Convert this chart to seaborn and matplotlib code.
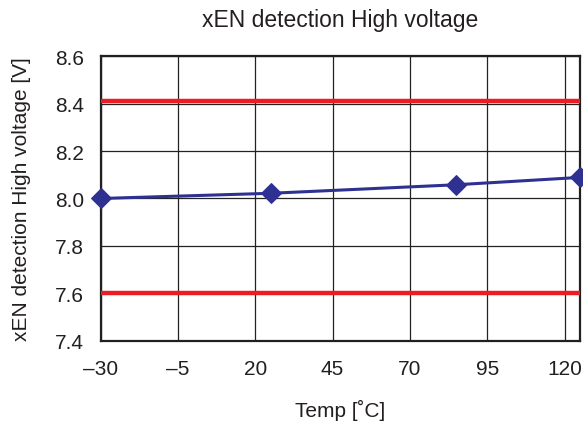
import matplotlib
matplotlib.use("Agg")
import matplotlib.pyplot as plt
import seaborn as sns
import pandas as pd

temps = [-30, 25, 85, 125]
voltage = [8.00, 8.022, 8.058, 8.089]
limits = [8.41, 7.60]
xticks = [-30, -5, 20, 45, 70, 95, 120]
yticks = [7.4, 7.6, 7.8, 8.0, 8.2, 8.4, 8.6]

sns.set_style("white")
plt.rcParams['font.family'] = ['Liberation Sans', 'DejaVu Sans']

fig = plt.figure(figsize=(5.83, 4.27), dpi=100)
ax = fig.add_axes([0.1727, 0.1998, 0.9949 - 0.1727, 0.8658 - 0.1998])

df = pd.DataFrame({"Temp": temps, "V": voltage})
for lim in limits:
    ax.axhline(lim, color="#ed1c24", lw=3.2, zorder=3)
sns.lineplot(data=df, x="Temp", y="V", ax=ax, color="#2e3192", lw=2.2,
             marker="D", markersize=10, markeredgecolor="#2e3192", zorder=4,
             clip_on=False)

ax.set_xlim(-30, 125)
ax.set_ylim(7.4, 8.6)
ax.set_xticks(xticks)
ax.set_xticklabels([str(t).replace("-", "\u2013") for t in xticks])
ax.set_yticks(yticks)
ax.set_yticklabels([f"{v:.1f}" for v in yticks])
ax.grid(True, color="#222222", lw=0.9)
ax.tick_params(axis="both", length=0, labelsize=15, colors="#231f20")
ax.tick_params(axis="x", pad=13)
ax.tick_params(axis="y", pad=12)
for s in ax.spines.values():
    s.set_color("#231f20")
    s.set_linewidth(1.6)
ax.set_xlabel("Temp [\u02daC]", fontsize=15, color="#231f20", labelpad=15)
ax.set_ylabel("xEN detection High voltage [V]", fontsize=15, color="#231f20", labelpad=17)
ax.set_title("xEN detection High voltage", fontsize=16.5, color="#231f20", pad=22)

fig.savefig("out.png", dpi=100)
